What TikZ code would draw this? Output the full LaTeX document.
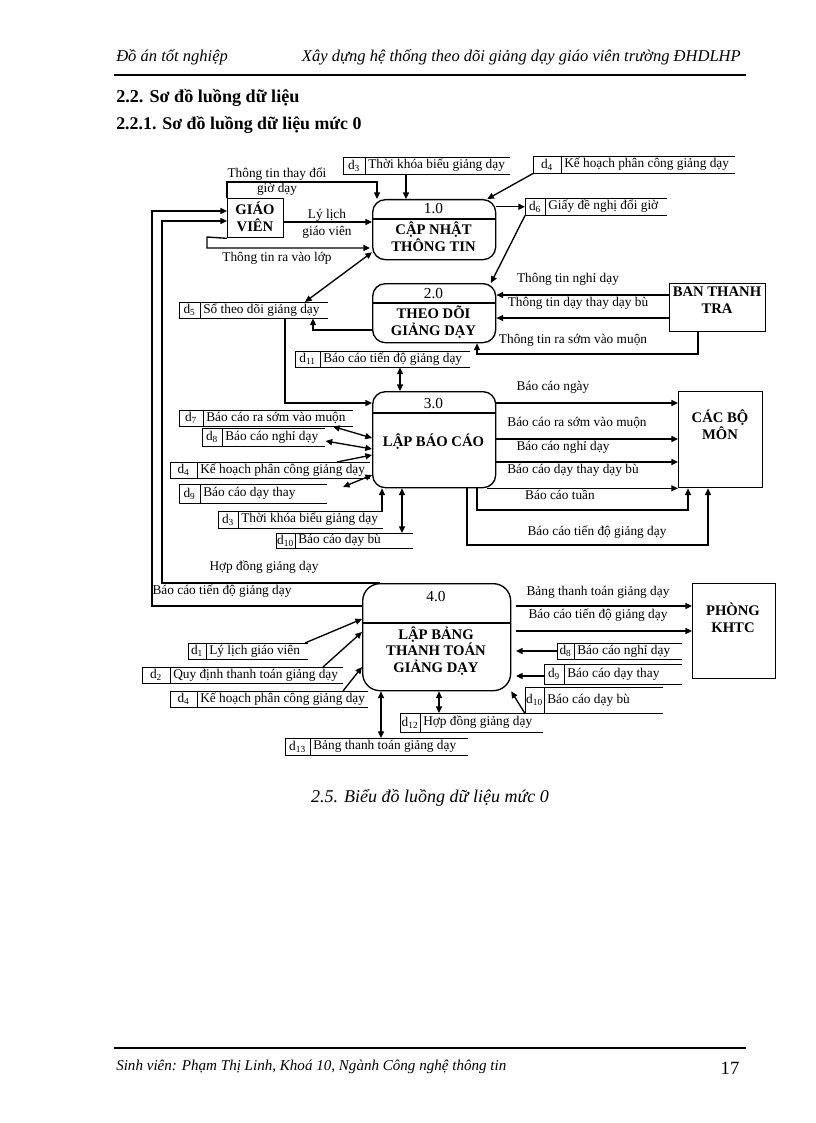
\documentclass[tikz,border=0pt]{standalone}
\usepackage{fontspec}
\setmainfont{Liberation Serif}
\usetikzlibrary{arrows.meta}

\newcommand{\px}[1]{#1*0.75pt}
% data store: name, x left, x divider, x right, y top, y bottom, id, text
\newcommand{\khodl}[8]{%
  \node[inner sep=0pt, minimum width={(#4-#2)*0.75pt}, minimum height={(#6-#5)*0.75pt}, anchor=north west] (#1) at (#2,#5) {};
  \draw[storeline] (#4,#5) -- (#2,#5) -- (#2,#6) -- (#4,#6);
  \draw[storeline] (#3,#5) -- (#3,#6);
  \node[lbl] (#1-id) at ({(#2+#3)/2},{(#5+#6)/2}) {d\textsubscript{#7}};
  \node[lbl, anchor=west] (#1-text) at ({#3+3},{(#5+#6)/2}) {#8};
}

\tikzset{
  arr/.style={-{Triangle[length=5pt,width=4.5pt]}, line width=1pt},
  dbl/.style={{Triangle[length=5pt,width=4.5pt]}-{Triangle[length=5pt,width=4.5pt]}, line width=1pt},
  plain/.style={line width=1pt},
  storeline/.style={line width=0.7pt},
  process/.style={draw, line width=1pt, rounded corners=9.5pt, inner sep=0pt},
  entity/.style={draw, line width=1pt, inner sep=0pt},
  bigtext/.style={font=\fontsize{11}{12.5}\selectfont\bfseries, align=center, inner sep=0pt},
  num/.style={font=\fontsize{11.5}{13}\selectfont, inner sep=0pt},
  lbl/.style={font=\fontsize{10}{12}\selectfont, inner sep=0pt},
  page/.style={font=\fontsize{13}{15}\selectfont, inner sep=0pt},
}

\begin{document}
\begin{tikzpicture}[x=0.75pt,y=-0.75pt]
\useasboundingbox (0,0) rectangle (816,1123);
%\draw[step=10,gray,very thin] (0,0) grid (816,1123); %background grid

% page header and headings
\node[page, anchor=west, font=\fontsize{12.4}{15}\selectfont\itshape] (hd1) at (116,57) {Đồ án tốt nghiệp};
\node[page, anchor=east, font=\fontsize{12.4}{15}\selectfont\itshape] (hd2) at (741,57) {Xây dựng hệ thống theo dõi giảng dạy giáo viên trường ĐHDLHP};
\draw[line width=1pt] (114,75) -- (746,75);
\node[page, anchor=west, font=\fontsize{13.6}{15}\selectfont\bfseries] (sec) at (116,98) {2.2. Sơ đồ luồng dữ liệu};
\node[page, anchor=west, font=\fontsize{13.4}{15}\selectfont\bfseries] (subsec) at (116,125) {2.2.1. Sơ đồ luồng dữ liệu mức 0};

% processes
\node[process, minimum width={\px{123}}, minimum height={\px{60}}, anchor=north west] (P1) at (372,199) {};
\draw[plain] (P1.west |- 0,219) -- (P1.east |- 0,219);
\node[num] (P1-num) at (433.5,209) {1.0};
\node[bigtext] (P1-title) at (433.5,237) {CẬP NHẬT\\THÔNG TIN};

\node[process, minimum width={\px{123}}, minimum height={\px{59}}, anchor=north west] (P2) at (372,283) {};
\draw[plain] (P2.west |- 0,303) -- (P2.east |- 0,303);
\node[num] (P2-num) at (433.5,294) {2.0};
\node[bigtext] (P2-title) at (433.5,322) {THEO DÕI\\GIẢNG DẠY};

\node[process, minimum width={\px{123}}, minimum height={\px{96}}, anchor=north west] (P3) at (372,391) {};
\draw[plain] (P3.west |- 0,413) -- (P3.east |- 0,413);
\node[num] (P3-num) at (433.5,404) {3.0};
\node[bigtext] (P3-title) at (433.5,442) {LẬP BÁO CÁO};

\node[process, rounded corners=13pt, minimum width={\px{148}}, minimum height={\px{107}}, anchor=north west] (P4) at (362,583) {};
\draw[plain] (P4.west |- 0,623) -- (P4.east |- 0,623);
\node[num] (P4-num) at (436,597) {4.0};
\node[bigtext] (P4-title) at (436,651) {LẬP BẢNG\\THANH TOÁN\\GIẢNG DẠY};

% external entities
\node[entity, minimum width={\px{56}}, minimum height={\px{39}}, anchor=north west] (GV) at (227,198) {};
\node[bigtext] (GV-text) at (255,217) {GIÁO\\VIÊN};
\node[entity, minimum width={\px{96}}, minimum height={\px{48}}, anchor=north west] (BTT) at (669,283) {};
\node[bigtext] (BTT-text) at (717,300) {BAN THANH\\TRA};
\node[entity, minimum width={\px{84}}, minimum height={\px{96}}, anchor=north west] (CBM) at (678,391) {};
\node[bigtext] (CBM-text) at (720,425) {CÁC BỘ\\MÔN};
\node[entity, minimum width={\px{83}}, minimum height={\px{95}}, anchor=north west] (KHTC) at (692,583) {};
\node[bigtext] (KHTC-text) at (733,618) {PHÒNG\\KHTC};

% data stores
\khodl{S3a}{343}{365}{510}{157}{174}{3}{Thời khóa biểu giảng dạy}
\khodl{S4a}{533}{561}{735}{156}{173}{4}{Kế hoạch phân công giảng dạy}
\khodl{S6}{525}{545}{667}{198}{215}{6}{Giấy đề nghị đổi giờ}
\khodl{S5}{179}{200}{328}{302}{318}{5}{Sổ theo dõi giảng dạy}
\khodl{S11}{295}{320}{470}{351}{367}{11}{Báo cáo tiến độ giảng dạy}
\khodl{S7}{179}{203}{353}{410}{426}{7}{Báo cáo ra sớm vào muộn}
\khodl{S8a}{202}{222}{325}{428}{446}{8}{Báo cáo nghỉ dạy}
\khodl{S4b}{170}{197}{370}{462}{478}{4}{Kế hoạch phân công giảng dạy}
\khodl{S9a}{179}{200}{327}{484}{503}{9}{Báo cáo dạy thay}
\khodl{S3b}{218}{238}{383}{511}{528}{3}{Thời khóa biểu giảng dạy}
\khodl{S10a}{276}{295}{413}{533}{548}{10}{Báo cáo dạy bù}
\khodl{S1}{188}{206}{308}{643}{659}{1}{Lý lịch giáo viên}
\khodl{S2}{142}{170}{343}{667}{683}{2}{Quy định thanh toán giảng dạy}
\khodl{S4c}{170}{197}{368}{691}{707}{4}{Kế hoạch phân công giảng dạy}
\khodl{S12}{400}{420}{543}{713}{732}{12}{Hợp đồng giảng dạy}
\khodl{S13}{285}{310}{468}{738}{755}{13}{Bảng thanh toán giảng dạy}
\khodl{S8b}{557}{574}{682}{643}{659}{8}{Báo cáo nghỉ dạy}
\khodl{S9b}{544}{564}{682}{664}{684}{9}{Báo cáo dạy thay}
\khodl{S10b}{525}{544}{663}{687}{713}{10}{Báo cáo dạy bù}

\coordinate (d9end) at (343,487);

% flows of process 1.0
\draw[arr] (GV.north west) |- (377,182) -- (377,0 |- P1.north);
\node[lbl] (f1a) at (277,174) {Thông tin thay đổi};
\node[lbl] (f1b) at (277,189) {giờ dạy};
\draw[arr] (406,0 |- S3a.south) -- (406,0 |- P1.north);
\draw[arr] (S4a.south west) -- (P1.30);
\draw[arr] (P1.east |- S6.west) -- (S6.west);
\draw[arr] (S6.south west) -- (P2.28);
\draw[arr] (GV.east |- 0,222) -- (P1.west |- 0,222);
\node[lbl] (f2a) at (327,215) {Lý lịch};
\node[lbl] (f2b) at (327,232) {giáo viên};
\draw[arr] (GV.south west) -- (207,237) |- (370,248);
\node[lbl] (f3) at (277,258) {Thông tin ra vào lớp};
\draw[dbl] (305,0 |- S5.north) -- (P1.200);

% flows of process 2.0
\draw[arr] (BTT.west |- 0,295) -- (P2.east |- 0,295);
\node[lbl] (f4) at (568,279) {Thông tin nghỉ dạy};
\draw[arr] (BTT.west |- 0,318) -- (P2.east |- 0,318);
\node[lbl] (f5) at (578,303) {Thông tin dạy thay dạy bù};
\draw[arr] (698,0 |- BTT.south) |- (477,354) -- (477,0 |- P2.south);
\node[lbl] (f6) at (573,340) {Thông tin ra sớm vào muộn};
\draw[arr] (P2.west |- 0,330) -| (313,0 |- S5.south);
\draw[arr] (285,0 |- S5.south) |- (P3.west |- 0,403);
\draw[dbl] (400,0 |- S11.south) -- (400,0 |- P3.north);

% flows of process 3.0
\draw[dbl] (333,0 |- S7.south) -- (P3.west |- 0,438);
\draw[dbl] (S8a.east |- 0,441) -- (P3.west |- 0,449);
\draw[arr] (337,0 |- S4b.north) -- (P3.west |- 0,455);
\draw[dbl] (d9end) -- (P3.west |- 0,475);
\draw[arr] (382,0 |- S3b.north) -- (382,0 |- P3.south);
\draw[dbl] (402,0 |- P3.south) -- (402,0 |- S10a.north);
\draw[arr] (P3.east |- 0,403) -- (CBM.west |- 0,403);
\node[lbl] (f7) at (553,387) {Báo cáo ngày};
\draw[arr] (P3.east |- 0,439) -- (CBM.west |- 0,439);
\node[lbl] (f8) at (577,423) {Báo cáo ra sớm vào muộn};
\draw[arr] (P3.east |- 0,462) -- (CBM.west |- 0,462);
\node[lbl] (f9) at (563,447) {Báo cáo nghỉ dạy};
\draw[arr] (487,0 |- P3.south) -- (CBM.south west);
\node[lbl] (f10) at (573,470) {Báo cáo dạy thay dạy bù};
\draw[arr] (477,0 |- P3.south) |- (688,510) -- (688,0 |- CBM.south);
\node[lbl] (f11) at (560,495) {Báo cáo tuần};
\draw[arr] (467,0 |- P3.south) |- (708,545) -- (708,0 |- CBM.south);
\node[lbl] (f12) at (597,532) {Báo cáo tiến độ giảng dạy};

% flows of process 4.0
\draw[arr] (380,0 |- P4.north) -| (162,221) -- (GV.west |- 0,221);
\node[lbl] (f13) at (264,567) {Hợp đồng giảng dạy};
\draw[arr] (P4.west |- 0,606) -| (152,211) -- (GV.west |- 0,211);
\node[lbl] (f14) at (222,591) {Báo cáo tiến độ giảng dạy};
\draw[arr] (305,0 |- S1.north) -- (P4.west |- 0,619);
\draw[arr] (323,0 |- S2.north) -- (P4.west |- 0,632);
\draw[arr] (343,0 |- S4c.north) -- (P4.west |- 0,667);
\draw[dbl] (439,0 |- P4.south) -- (439,0 |- S12.north);
\draw[dbl] (381,0 |- P4.south) -- (381,0 |- S13.north);
\draw[arr, shorten <=3.5pt] (P4.east |- 0,606) -- (KHTC.west |- 0,606);
\node[lbl] (f15) at (598,592) {Bảng thanh toán giảng dạy};
\draw[arr, shorten <=3.5pt] (P4.east |- 0,631) -- (KHTC.west |- 0,631);
\node[lbl] (f16) at (598,615) {Báo cáo tiến độ giảng dạy};
\draw[arr, shorten >=3.5pt] (S8b.west |- 0,651) -- (P4.east |- 0,651);
\draw[arr, shorten >=3.5pt] (S9b.west |- 0,676) -- (P4.east |- 0,676);
\draw[arr] (S10b.south west) -- (P4.-36);

% caption and footer
\node[page, font=\fontsize{13.5}{15}\selectfont\itshape] (cap) at (430,798) {2.5. Biểu đồ luồng dữ liệu mức 0};
\draw[line width=1.2pt] (114,1048) -- (746,1048);
\node[page, anchor=west, font=\fontsize{11.3}{14}\selectfont\itshape] (foot) at (116,1067) {Sinh viên: Phạm Thị Linh, Khoá 10, Ngành Công nghệ thông tin};
\node[page, font=\fontsize{14}{16}\selectfont] (pg) at (730,1068) {17};
\end{tikzpicture}
\end{document}
